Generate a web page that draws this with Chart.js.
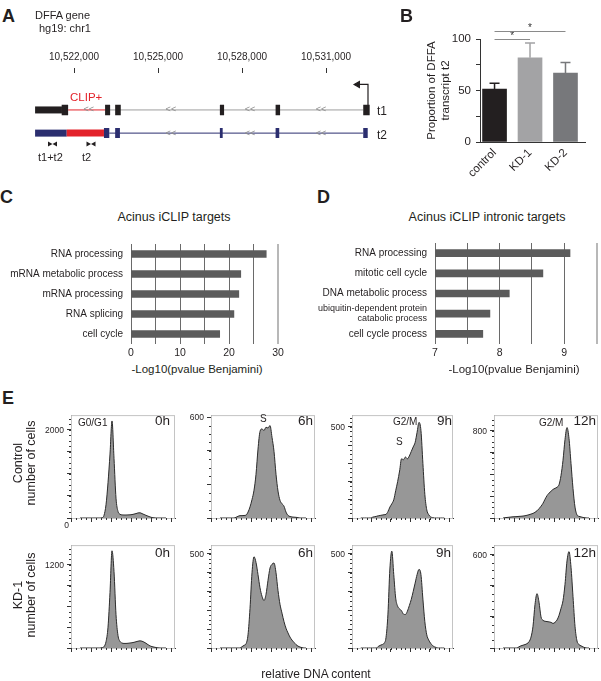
<!DOCTYPE html>
<html>
<head>
<meta charset="utf-8">
<script src="https://cdn.jsdelivr.net/npm/chart.js@4.4.0/dist/chart.umd.min.js"></script>
<style>
  html, body { margin: 0; padding: 0; background: #fff; }
  #fig { position: relative; width: 601px; height: 681px; overflow: hidden;
         font-family: "Liberation Sans", Arial, Helvetica, sans-serif; color: #231f20; }
  #fig canvas { position: absolute; }
  .t { position: absolute; white-space: nowrap; line-height: 1; }
  .letter { font-weight: bold; font-size: 18px; }
  .r { transform: translateX(-100%); }
  .c { transform: translateX(-50%); }
  .rot { text-align: center; line-height: 12.5px; font-size: 12.5px; transform: translate(-50%, -50%) rotate(-90deg); }
  .ylab { font-size: 8.5px; transform: translate(-100%, -50%); }
</style>
</head>
<body>
<div id="fig">
  <canvas id="geneA" width="400" height="140" style="left:0;top:30px"></canvas>
  <canvas id="barB" width="201" height="175" style="left:400px;top:20px"></canvas>
  <canvas id="goC" width="300" height="130" style="left:0;top:230px"></canvas>
  <canvas id="goD" width="301" height="131" style="left:300px;top:229px"></canvas>
  <div id="hists"></div>

  <div class="t letter" style="left:2px;top:7px">A</div>
  <div class="t letter" style="left:400px;top:7px">B</div>
  <div class="t letter" style="left:0;top:188px">C</div>
  <div class="t letter" style="left:317px;top:188px">D</div>
  <div class="t letter" style="left:2px;top:389px">E</div>

  <div class="t" style="left:35px;top:10px;font-size:11px">DFFA gene</div>
  <div class="t" style="left:39px;top:23px;font-size:11px">hg19: chr1</div>
  <div class="t" style="left:70px;top:92px;font-size:11.5px;color:#e3232b">CLIP+</div>
  <div class="t" style="left:377px;top:105px;font-size:12px">t1</div>
  <div class="t" style="left:377px;top:129px;font-size:12px">t2</div>
  <div class="t" style="left:38px;top:152px;font-size:11px">t1+t2</div>
  <div class="t" style="left:82px;top:152px;font-size:11px">t2</div>

  <div class="t c" style="left:174px;top:211px;font-size:12.5px">Acinus iCLIP targets</div>
  <div class="t c" style="left:487px;top:211px;font-size:12.5px">Acinus iCLIP intronic targets</div>
  <div class="t c" style="left:197px;top:364px;font-size:11.5px">-Log10(pvalue Benjamini)</div>
  <div class="t c" style="left:514px;top:364px;font-size:11.5px">-Log10(pvalue Benjamini)</div>

  <div class="t rot" style="left:24px;top:463px">Control<br>number of cells</div>
  <div class="t rot" style="left:24px;top:595px">KD-1<br>number of cells</div>
  <div class="t c" style="left:316px;top:668px;font-size:12px">relative DNA content</div>

  <div class="t" style="left:78px;top:418px;font-size:10px">G0/G1</div>
  <div class="t" style="left:260px;top:414px;font-size:10px">S</div>
  <div class="t" style="left:393px;top:417px;font-size:10px">G2/M</div>
  <div class="t" style="left:396px;top:437px;font-size:10px">S</div>
  <div class="t" style="left:539px;top:418px;font-size:10px">G2/M</div>
  <div class="t r" style="left:170px;top:414px;font-size:13.5px">0h</div>
  <div class="t r" style="left:313px;top:414px;font-size:13.5px">6h</div>
  <div class="t r" style="left:452px;top:414px;font-size:13.5px">9h</div>
  <div class="t r" style="left:596px;top:414px;font-size:13.5px">12h</div>
  <div class="t r" style="left:170px;top:546px;font-size:13.5px">0h</div>
  <div class="t r" style="left:313px;top:546px;font-size:13.5px">6h</div>
  <div class="t r" style="left:451px;top:546px;font-size:13.5px">9h</div>
  <div class="t r" style="left:596px;top:546px;font-size:13.5px">12h</div>
</div>

<script>
// ---------- A: DFFA gene model, hg19 chr1 coordinates ----------
const geneTicks = [10522000, 10525000, 10528000, 10531000];
const t1Utr = [[10520610, 10521570]];
const t1Clip = [[10521790, 10523110]];
const t1Intron = [[10523110, 10532330]];
const t1Exons = [[10521560, 10521790], [10523110, 10523290], [10523470, 10523670],
                 [10527210, 10527360], [10529200, 10529360], [10532330, 10532560]];
const t2Utr = [[10520610, 10521740]];
const t2Clip = [[10521740, 10523070]];
const t2Intron = [[10523260, 10532330]];
const t2Exons = [[10523070, 10523260], [10523470, 10523640], [10527210, 10527310],
                 [10529200, 10529330], [10532330, 10532490]];
const chevronsT1 = [10522530, 10525460, 10528290, 10530820];
const chevronsT2 = [10525460, 10528290, 10530820];
const primerPos = [10521125, 10521340, 10522500, 10522715];
const primerDir = [90, -90, 90, -90];
const tssArrow = [[10532500, 0.8], [10532500, -0.1], [10532130, -0.1]];
const trackY = { t1: 1, t2: 2, primers: 2.47 };

// ---------- B: qPCR proportion of transcript t2 ----------
const bLabels = ['control', 'KD-1', 'KD-2'];
const bValues = [51.5, 81.8, 66.8];
const bErrors = [5.5, 14.2, 10.5];
const bColors = ['#231f20', '#a3a3a5', '#77787b'];
const bSignif = [[0, 1, 100], [0, 2, 108]];

// ---------- C / D: GO terms ----------
const goCLabels = ['RNA processing', 'mRNA metabolic process', 'mRNA processing', 'RNA splicing', 'cell cycle'];
const goCValues = [27.6, 22.4, 22.0, 21.0, 18.1];
const goDLabels = ['RNA processing', 'mitotic cell cycle', 'DNA metabolic process',
                   ['ubiquitin-dependent protein', 'catabolic process'], 'cell cycle process'];
const goDValues = [9.09, 8.67, 8.15, 7.85, 7.74];

// ---------- E: DNA content histograms ----------
const dnaChannel = [90, 110, 130, 150, 170, 190, 210, 230, 250, 270, 290, 310, 330, 350, 370, 390, 410, 430, 450, 470,
                    490, 510, 530, 550, 570, 590, 610, 630, 650, 670, 690, 710, 730, 750, 770, 790, 810, 830, 850, 870,
                    890, 910, 930, 950];
const dnaMajorTicks = [0, 200, 400, 600, 800, 1000];
const ctrl0h = [0,0,0,0,0,0,0,0,0,0, 0,5,60,300,800,1450,2200,1350,450,150, 85,70,68,68,70,72,78,88,100,115,
                118,100,80,60,42,25,10,4,0,0, 0,0,0,0];
const ctrl6h = [0,0,0,0,0,0,0,0,4,10, 14,14,15,17,35,66,110,165,260,410, 515,530,520,540,535,550,480,396,260,160,
                105,85,70,35,15,9,6,5,4,2, 0,0,0,0];
const ctrl9h = [0,0,0,0,0,0,4,7,9,12, 14,16,18,20,35,60,78,100,150,200, 258,325,320,335,325,340,365,390,415,470,
                525,480,300,130,45,18,6,2,0,0, 0,0,0,0];
const ctrl12h = [0,3,5,7,9,11,12,13,15,16, 18,21,25,30,36,42,52,66,85,108, 135,172,205,228,245,262,272,282,305,390,
                 530,720,830,730,500,270,100,28,15,10, 5,2,0,0];
const kd0h = [0,0,0,0,0,0,0,0,0,0, 0,5,20,90,300,800,1400,1100,480,180, 95,72,66,66,68,72,76,82,90,98,
              103,98,85,68,48,30,20,13,7,2, 0,0,0,0];
const kd6h = [0,0,0,0,0,0,0,0,0,0, 0,7,14,22,70,210,400,485,455,390, 320,275,252,285,360,425,445,452,400,305,
              232,185,140,105,80,58,42,30,18,10, 5,2,0,0];
const kd9h = [0,0,0,0,0,0,0,0,0,8, 14,18,25,55,180,420,515,390,265,222, 208,198,180,178,195,225,258,300,345,390,
              418,390,260,140,70,42,25,13,6,2, 0,0,0,0];
const kd12h = [0,0,0,0,0,0,0,0,8,14, 18,22,28,40,70,140,280,350,295,200, 178,172,170,168,165,158,165,180,210,255,
               305,410,560,620,520,330,140,45,22,14, 7,2,0,0];
const histRows = [[ctrl0h, ctrl6h, ctrl9h, ctrl12h], [kd0h, kd6h, kd9h, kd12h]];
const histYMax = [[2333, 612, 565, 944], [1482, 547, 547, 662]];
const histYStep = [[500, 200, 100, 200], [300, 100, 100, 200]];
const histYLabel = [[2000, 600, 500, 800], [1200, 500, 500, 600]];
const histLeft = [71, 211, 352, 494];
const histWidth = [104, 104, 101, 104];
const histTop = [413, 543];
const histHeight = 105;

const FONT = '"Liberation Sans", Arial, Helvetica, sans-serif';
Chart.defaults.font.family = FONT;
Chart.defaults.color = '#231f20';
Chart.defaults.animation = false;
Chart.defaults.responsive = false;
Chart.defaults.events = [];
Chart.defaults.plugins.legend.display = false;
Chart.defaults.plugins.tooltip.enabled = false;

// light frame around histogram plot areas
Chart.register({
  id: 'frame',
  beforeDatasetsDraw(chart, args, opts) {
    if (!opts.color) return;
    const a = chart.chartArea, ctx = chart.ctx;
    ctx.save();
    ctx.strokeStyle = opts.color;
    ctx.lineWidth = 1;
    ctx.strokeRect(a.left + 0.5, a.top + 0.5, a.right - a.left - 1, a.bottom - a.top);
    ctx.restore();
  }
});

// small minor tick marks on both axes
Chart.register({
  id: 'minorTicks',
  afterDraw(chart, args, opts) {
    if (!opts.x) return;
    const { ctx, chartArea: a, scales: { x, y } } = chart;
    ctx.save();
    ctx.strokeStyle = '#333';
    ctx.lineWidth = 1;
    ctx.beginPath();
    for (let v = x.min; v <= x.max; v += opts.x) {
      const px = Math.round(x.getPixelForValue(v)) + 0.5;
      ctx.moveTo(px, a.bottom); ctx.lineTo(px, a.bottom + 2);
    }
    for (let v = y.min; v <= y.max; v += opts.y) {
      const py = Math.round(y.getPixelForValue(v)) + 0.5;
      ctx.moveTo(a.left, py); ctx.lineTo(a.left - 2, py);
    }
    ctx.stroke();
    ctx.restore();
  }
});

// ---------- A ----------
const segs = (list, y) => list.flatMap(([a, b]) => [{ x: a, y }, { x: b, y }, { x: b, y: null }]);
const track = (data, color, width, order) => ({
  data, borderColor: color, backgroundColor: color, borderWidth: width, pointRadius: 0,
  borderCapStyle: 'butt', order, clip: false
});

const chevronPlugin = {
  id: 'chevrons',
  afterDatasetsDraw(chart) {
    const { ctx, chartArea: a, scales: { x, y } } = chart;
    ctx.save();
    ctx.font = '9px ' + FONT;
    ctx.fillStyle = '#8c8c8c';
    ctx.textAlign = 'center';
    ctx.textBaseline = 'middle';
    chevronsT1.forEach(v => ctx.fillText('<<', x.getPixelForValue(v), y.getPixelForValue(trackY.t1)));
    chevronsT2.forEach(v => ctx.fillText('<<', x.getPixelForValue(v), y.getPixelForValue(trackY.t2)));
    // coordinate tick marks under the labels
    ctx.strokeStyle = '#333';
    ctx.lineWidth = 1;
    ctx.beginPath();
    geneTicks.forEach(v => {
      const px = Math.round(x.getPixelForValue(v)) + 0.5;
      ctx.moveTo(px, a.top - 6); ctx.lineTo(px, a.top - 1);
    });
    ctx.stroke();
    ctx.restore();
  }
};

new Chart(document.getElementById('geneA'), {
  type: 'line',
  data: {
    datasets: [
      track(segs(t1Exons, trackY.t1), '#231f20', 10.5, 0),
      track(segs(t1Utr, trackY.t1), '#231f20', 7, 1),
      track(segs(t1Clip, trackY.t1), '#e3232b', 1, 2),
      track(segs(t1Intron, trackY.t1), '#9d9d9d', 1, 3),
      track(segs(t2Exons, trackY.t2), '#2b2e6f', 10, 0),
      track(segs(t2Clip, trackY.t2), '#e3232b', 7, 1),
      track(segs(t2Utr, trackY.t2), '#2b2e6f', 7, 1),
      track(segs(t2Intron, trackY.t2), '#2b2e6f', 1, 3),
      Object.assign(track(tssArrow.map(([x, y]) => ({ x, y })), '#231f20', 1.2, 0), {
        pointRadius: [0, 0, 3.5], pointStyle: 'triangle', rotation: -90
      }),
      Object.assign(track(primerPos.map(x => ({ x, y: trackY.primers })), '#231f20', 0, 0), {
        showLine: false, pointRadius: 3, pointStyle: 'triangle', rotation: primerDir
      })
    ]
  },
  options: {
    layout: { padding: { left: 35, right: 28, top: 14, bottom: 0 } },
    scales: {
      x: {
        type: 'linear', position: 'top', min: 10520607, max: 10532643,
        afterBuildTicks: s => { s.ticks = geneTicks.map(value => ({ value })); },
        afterFit: s => { s.height = 30; },
        ticks: { font: { size: 10 }, padding: 5, callback: v => v.toLocaleString('en-US') },
        grid: { display: false, drawTicks: true, tickLength: 6 },
        border: { display: false }
      },
      y: { type: 'linear', reverse: true, min: -0.551, max: 3.367, display: false }
    }
  },
  plugins: [chevronPlugin]
});

// ---------- B ----------
const errorBarPlugin = {
  id: 'errorBars',
  afterDatasetsDraw(chart) {
    const { ctx, scales: { x, y } } = chart;
    ctx.save();
    ctx.lineWidth = 1.5;
    bValues.forEach((v, i) => {
      const px = x.getPixelForValue(i);
      const top = y.getPixelForValue(v), end = y.getPixelForValue(v + bErrors[i]);
      ctx.strokeStyle = bColors[i];
      ctx.beginPath();
      ctx.moveTo(px, top); ctx.lineTo(px, end);
      ctx.moveTo(px - 5, end); ctx.lineTo(px + 5, end);
      ctx.stroke();
    });
    ctx.strokeStyle = '#8a8a8a';
    ctx.lineWidth = 1;
    ctx.fillStyle = '#333';
    ctx.font = '10px ' + FONT;
    ctx.textAlign = 'center';
    ctx.textBaseline = 'alphabetic';
    bSignif.forEach(([a, b, level]) => {
      const x1 = x.getPixelForValue(a), x2 = x.getPixelForValue(b);
      const py = Math.round(y.getPixelForValue(level)) + 0.5;
      ctx.beginPath(); ctx.moveTo(x1, py); ctx.lineTo(x2, py); ctx.stroke();
      ctx.fillText('*', (x1 + x2) / 2, py - 1);
    });
    ctx.restore();
  }
};

new Chart(document.getElementById('barB'), {
  type: 'bar',
  data: {
    datasets: [{
      data: bValues.map((y, x) => ({ x, y })),
      backgroundColor: bColors, borderWidth: 0, barThickness: 24
    }]
  },
  options: {
    layout: { padding: { left: 25, right: 16, top: 19, bottom: 0 } },
    scales: {
      x: {
        type: 'linear', min: -0.41, max: 2.55, offset: false,
        afterBuildTicks: s => { s.ticks = bLabels.map((l, i) => ({ value: i })); },
        afterFit: s => { s.height = 53; },
        ticks: { font: { size: 11.5 }, minRotation: 45, maxRotation: 45, padding: 4, autoSkip: false,
                 callback: v => bLabels[v] },
        grid: { display: false, drawTicks: false, offset: false },
        border: { color: '#333' }
      },
      y: {
        min: 0, max: 100,
        afterFit: s => { s.width = 55; },
        ticks: { stepSize: 25, font: { size: 11.5 }, padding: 5, callback: v => (v % 50 === 0 ? v : '') },
        grid: { drawOnChartArea: false, tickLength: 4, tickColor: '#333' },
        border: { color: '#333' },
        title: { display: true, text: ['Proportion of DFFA', 'transcript t2'], font: { size: 11.5 },
                 padding: { top: 0, bottom: 0 } }
      }
    }
  },
  plugins: [errorBarPlugin]
});

// ---------- C / D ----------
function goChart(id, labels, values, xMin, xMax, step, yWidth, pad, labelFont) {
  const last = c => c.tick && c.tick.value === xMax;
  return new Chart(document.getElementById(id), {
    type: 'bar',
    data: { labels, datasets: [{ data: values, backgroundColor: '#5b5b5b', barThickness: 7, base: xMin }] },
    options: {
      indexAxis: 'y',
      layout: { padding: pad },
      scales: {
        x: {
          min: xMin, max: xMax,
          afterFit: s => { s.height = 16; },
          ticks: { stepSize: step, font: { size: 10.5 }, padding: 3,
                   callback: v => (Math.abs(v / (step * 2) - Math.round(v / (step * 2))) < 1e-6 ? v : '') },
          grid: { drawTicks: false, color: c => (last(c) ? '#b8b8b8' : '#6a6a6a'),
                  lineWidth: c => (last(c) ? 2 : 1) },
          border: { display: false }
        },
        y: {
          afterFit: s => { s.width = yWidth; },
          ticks: { font: labelFont, padding: 8, autoSkip: false },
          grid: { display: false, drawTicks: false },
          border: { display: false }
        }
      }
    }
  });
}
goChart('goC', goCLabels, goCValues, 0, 30, 5, 131, { left: 0, right: 22, top: 11, bottom: 0 },
        { size: 10 });
goChart('goD', goDLabels, goDValues, 7, 9.5, 0.5, 135, { left: 0, right: 4.5, top: 11, bottom: 0 },
        c => (c.index === 3 ? { size: 9, lineHeight: 1.1 } : { size: 10 }));

// ---------- E ----------
const fig = document.getElementById('fig');
const holder = document.getElementById('hists');
const yLabel = (text, x, y) => {
  const d = document.createElement('div');
  d.className = 't ylab';
  d.style.left = x + 'px';
  d.style.top = y + 'px';
  d.textContent = text;
  fig.appendChild(d);
};
histRows.forEach((row, r) => row.forEach((vals, c) => {
  const cv = document.createElement('canvas');
  const left = histLeft[c] - 45, top = histTop[r] - 6;
  cv.width = histWidth[c] + 49;
  cv.height = histHeight + 16;
  cv.style.left = left + 'px';
  cv.style.top = top + 'px';
  holder.appendChild(cv);
  const step = histYStep[r][c];
  const chart = new Chart(cv, {
    type: 'line',
    data: {
      datasets: [{
        data: dnaChannel.map((x, i) => ({ x, y: vals[i] })),
        fill: 'origin', backgroundColor: '#979797', borderColor: '#2b2b2b', borderWidth: 1,
        pointRadius: 0, cubicInterpolationMode: 'monotone'
      }]
    },
    options: {
      layout: { padding: { left: 0, right: 4, top: 6, bottom: 4 } },
      plugins: { frame: { color: '#c4c4c4' }, minorTicks: { x: 50, y: step / 4 } },
      scales: {
        x: {
          type: 'linear', min: 0, max: 1040, z: 1,
          afterBuildTicks: s => { s.ticks = dnaMajorTicks.map(value => ({ value })); },
          afterFit: s => { s.height = 6; },
          ticks: { display: false },
          grid: { drawOnChartArea: false, tickLength: 4, tickColor: '#333' },
          border: { color: '#333' }
        },
        y: {
          min: 0, max: histYMax[r][c], z: 1,
          afterBuildTicks: s => {
            const majors = [];
            for (let v = 0; v <= s.max; v += step) majors.push({ value: v });
            s.ticks = majors;
          },
          afterFit: s => { s.width = 45; },
          ticks: { font: { size: 8.5 }, padding: 3, autoSkip: false, callback: () => '' },
          grid: { drawOnChartArea: false, tickLength: 4, tickColor: '#333' },
          border: { color: '#333' }
        }
      }
    }
  });
  // the single labelled value of each y axis, placed from the chart's own scale
  const ys = chart.scales.y, a = chart.chartArea;
  yLabel(histYLabel[r][c], left + a.left - 7, top + ys.getPixelForValue(histYLabel[r][c]));
  if (r === 0 && c === 0) yLabel(0, left + a.left - 2, top + ys.getPixelForValue(0) + 7);
}));
</script>
</body>
</html>
